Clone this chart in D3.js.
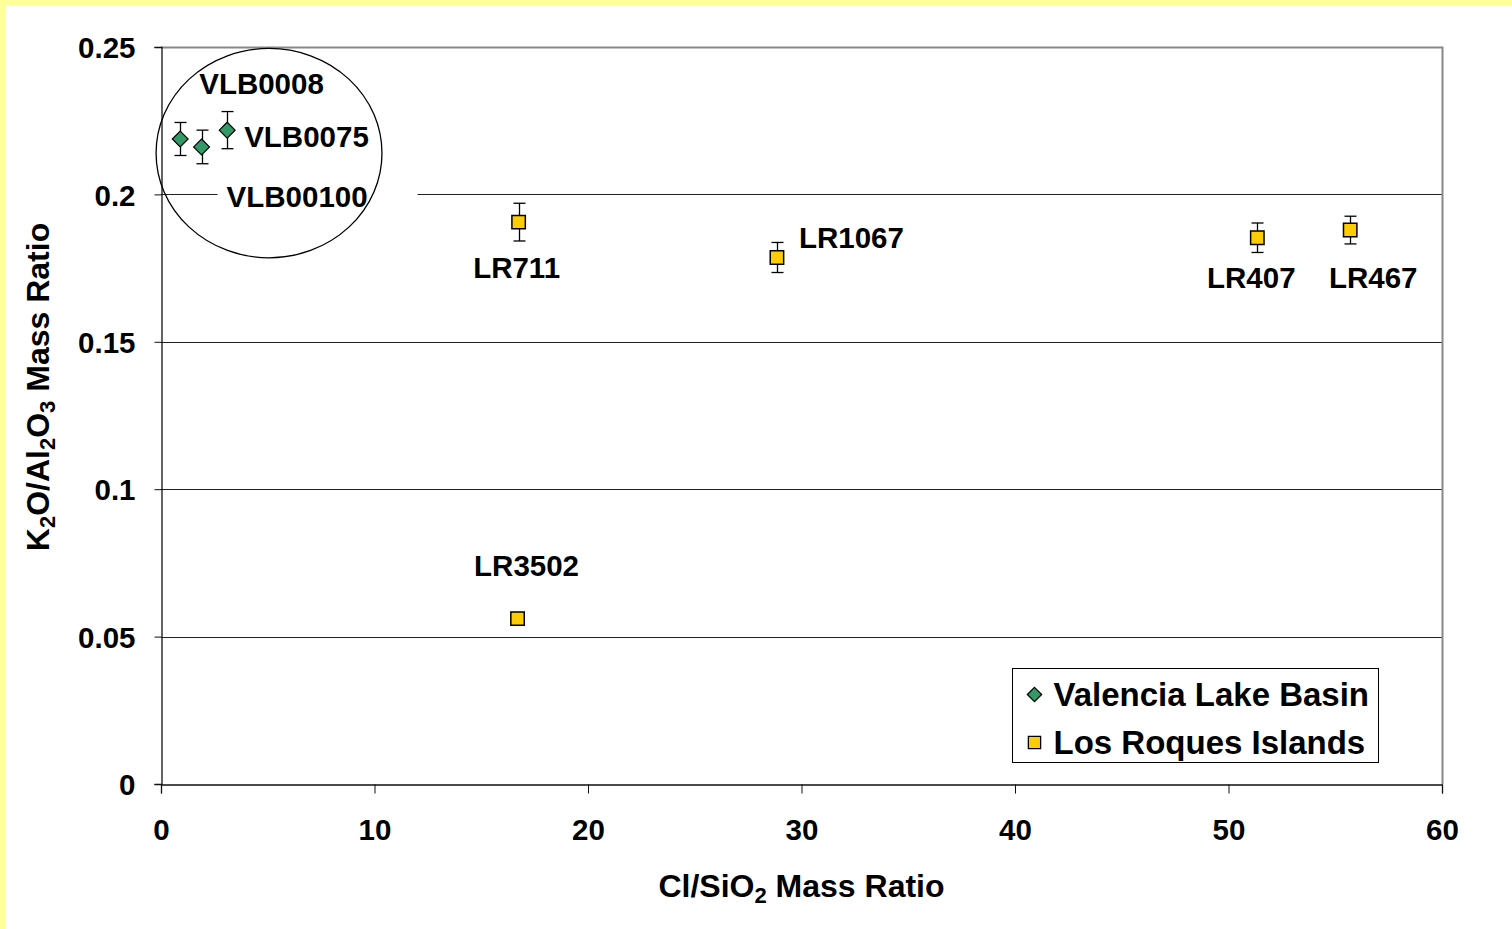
<!DOCTYPE html>
<html>
<head>
<meta charset="utf-8">
<script src="https://cdn.jsdelivr.net/npm/d3@7"></script>
<style>
  html, body { margin: 0; padding: 0; background: #fff; }
  svg { display: block; }
  text { font-family: "Liberation Sans", Arial, sans-serif; font-weight: bold; fill: #000; }
</style>
</head>
<body>
<svg id="chart" width="1512" height="929"></svg>
<script>
// Valencia Lake Basin samples
var vlbNames = ["VLB0008", "VLB00100", "VLB0075"];
var vlbX = [0.9, 1.9, 3.1];
var vlbY = [0.2188, 0.2161, 0.2218];
var vlbErr = [0.0056, 0.0057, 0.0063];

// Los Roques Islands samples
var lrNames = ["LR711", "LR1067", "LR407", "LR467", "LR3502"];
var lrX = [16.75, 28.85, 51.35, 55.7, 16.7];
var lrY = [0.1906, 0.1786, 0.1853, 0.1879, 0.0561];
var lrErr = [0.0064, 0.0051, 0.005, 0.0047, 0];

// axis ticks
var xTicks = [0, 10, 20, 30, 40, 50, 60];
var yTicks = [0, 0.05, 0.1, 0.15, 0.2, 0.25];

// ellipse drawn round the Valencia group (data units)
var groupRing = { cx: 5.06, cy: 0.214, rx: 5.29, ry: 0.0355 };

function main()
{
  var svg = d3.select("#chart");
  var left = 161, right = 1442, top = 47, bottom = 784;

  var x = d3.scaleLinear().domain([0, 60]).range([left, right]);
  var y = d3.scaleLinear().domain([0, 0.25]).range([bottom, top]);

  // pale yellow frame on the top and left edge
  svg.append("rect").attr("x", 0).attr("y", 0).attr("width", 1512).attr("height", 5).attr("fill", "#ffff99");
  svg.append("rect").attr("x", 0).attr("y", 0).attr("width", 6).attr("height", 929).attr("fill", "#ffff99");

  // horizontal gridlines
  svg.append("g")
    .selectAll("line")
    .data(yTicks.filter(function (t) { return t > 0 && t < 0.25; }))
    .enter()
    .append("line")
    .attr("x1", left).attr("x2", right)
    .attr("y1", function (t) { return Math.round(y(t)) + 0.5; })
    .attr("y2", function (t) { return Math.round(y(t)) + 0.5; })
    .attr("stroke", "#222")
    .attr("stroke-width", 1);

  // top and right plot border
  svg.append("path")
    .attr("d", "M" + left + "," + (top + 0.5) + "H" + (right + 0.5) + "V" + bottom)
    .attr("fill", "none")
    .attr("stroke", "#888")
    .attr("stroke-width", 2);

  // x axis
  var xAxis = svg.append("g")
    .attr("transform", "translate(0," + (bottom + 0.5) + ")")
    .call(d3.axisBottom(x).tickValues(xTicks).tickSize(9).tickPadding(26).tickFormat(d3.format("d")));
  // y axis
  var yAxis = svg.append("g")
    .attr("transform", "translate(" + (left + 0.5) + ",0)")
    .call(d3.axisLeft(y).tickValues(yTicks).tickSize(7).tickPadding(19).tickFormat(function (d) { return d3.format("")(+d.toFixed(2)); }));

  [xAxis, yAxis].forEach(function (a) {
    a.select(".domain").attr("stroke", "#111").attr("stroke-width", 1.3);
    a.selectAll(".tick line").attr("stroke", "#111");
    a.selectAll("text").attr("font-size", 29.5).attr("font-family", "'Liberation Sans', Arial, sans-serif").attr("font-weight", "bold").attr("fill", "#000");
  });
  // x ticks cross the axis a little
  xAxis.selectAll(".tick line").attr("y1", 0);
  yAxis.selectAll(".tick text").attr("dy", "0.36em");

  // axis titles
  var xt = svg.append("text")
    .attr("x", x(30)).attr("y", 897)
    .attr("text-anchor", "middle")
    .attr("font-size", 32);
  xt.append("tspan").text("Cl/SiO");
  xt.append("tspan").text("2").attr("font-size", 22).attr("dy", 6);
  xt.append("tspan").text(" Mass Ratio").attr("dy", -6);

  var yt = svg.append("text")
    .attr("transform", "translate(49," + 387 + ") rotate(-90)")
    .attr("text-anchor", "middle")
    .attr("font-size", 32);
  yt.append("tspan").text("K");
  yt.append("tspan").text("2").attr("font-size", 22).attr("dy", 6);
  yt.append("tspan").text("O/Al").attr("dy", -6);
  yt.append("tspan").text("2").attr("font-size", 22).attr("dy", 6);
  yt.append("tspan").text("O").attr("dy", -6);
  yt.append("tspan").text("3").attr("font-size", 22).attr("dy", 6);
  yt.append("tspan").text(" Mass Ratio").attr("dy", -6);

  var vlb = vlbNames.map(function (n, i) { return { name: n, x: vlbX[i], y: vlbY[i], err: vlbErr[i] }; });
  var lr = lrNames.map(function (n, i) { return { name: n, x: lrX[i], y: lrY[i], err: lrErr[i] }; });

  // label placement: offset in pixels from its point, and text anchor
  var labelPos = {
    "VLB0008": [19, -45, "start"],
    "VLB00100": [25, 60, "start"],
    "VLB0075": [17, 17, "start"],
    "LR711": [-2, 56, "middle"],
    "LR1067": [22, -9, "start"],
    "LR407": [-6, 50, "middle"],
    "LR467": [23, 58, "middle"],
    "LR3502": [9, -43, "middle"]
  };

  // labels (VLB00100 sits on a white box that hides the 0.2 gridline)
  var labels = svg.append("g");
  vlb.concat(lr).forEach(function (d) {
    var p = labelPos[d.name];
    if (d.name === "VLB00100") {
      labels.append("rect")
        .attr("x", x(d.x) + 16).attr("y", y(d.y) + 35)
        .attr("width", 200).attr("height", 32)
        .attr("fill", "#fff");
    }
    labels.append("text")
      .attr("x", x(d.x) + p[0]).attr("y", y(d.y) + p[1])
      .attr("text-anchor", p[2])
      .attr("font-size", 29.5)
      .text(d.name);
  });

  // ring round the Valencia group
  svg.append("ellipse")
    .attr("cx", x(groupRing.cx)).attr("cy", y(groupRing.cy))
    .attr("rx", x(groupRing.rx) - x(0)).attr("ry", y(0) - y(groupRing.ry))
    .attr("fill", "none")
    .attr("stroke", "#000")
    .attr("stroke-width", 1.3);

  // error bars
  function drawErr(data) {
    var g = svg.append("g").attr("stroke", "#000").attr("stroke-width", 1.3);
    data.filter(function (d) { return d.err > 0; }).forEach(function (d) {
      var cx = Math.round(x(d.x)) + 0.5;
      g.append("line").attr("x1", cx).attr("x2", cx).attr("y1", y(d.y + d.err)).attr("y2", y(d.y - d.err));
      g.append("line").attr("x1", cx - 6).attr("x2", cx + 6).attr("y1", y(d.y + d.err)).attr("y2", y(d.y + d.err));
      g.append("line").attr("x1", cx - 6).attr("x2", cx + 6).attr("y1", y(d.y - d.err)).attr("y2", y(d.y - d.err));
    });
  }
  drawErr(vlb);
  drawErr(lr);

  var diamond = d3.symbol().type(d3.symbolDiamond2).size(160);
  var square = d3.symbol().type(d3.symbolSquare).size(180);

  svg.append("g").selectAll("path")
    .data(vlb).enter().append("path")
    .attr("d", diamond)
    .attr("transform", function (d) { return "translate(" + x(d.x) + "," + y(d.y) + ")"; })
    .attr("fill", "#339966").attr("stroke", "#000").attr("stroke-width", 1.2);

  svg.append("g").selectAll("path")
    .data(lr).enter().append("path")
    .attr("d", square)
    .attr("transform", function (d) { return "translate(" + x(d.x) + "," + y(d.y) + ")"; })
    .attr("fill", "#ffcc00").attr("stroke", "#000").attr("stroke-width", 1.5);

  // legend
  var legend = svg.append("g").attr("transform", "translate(1012.5,668.5)");
  legend.append("rect").attr("width", 366).attr("height", 94).attr("fill", "#fff").attr("stroke", "#000").attr("stroke-width", 1);
  var items = [
    { name: "Valencia Lake Basin", sym: d3.symbol().type(d3.symbolDiamond2).size(130), fill: "#339966" },
    { name: "Los Roques Islands", sym: d3.symbol().type(d3.symbolSquare).size(150), fill: "#ffcc00" }
  ];
  items.forEach(function (it, i) {
    var cy = 26 + i * 48;
    legend.append("path").attr("d", it.sym).attr("transform", "translate(22," + cy + ")")
      .attr("fill", it.fill).attr("stroke", "#000").attr("stroke-width", 1.3);
    legend.append("text").attr("x", 41).attr("y", cy + 11).attr("font-size", 33).text(it.name);
  });
}
main();
</script>
</body>
</html>
